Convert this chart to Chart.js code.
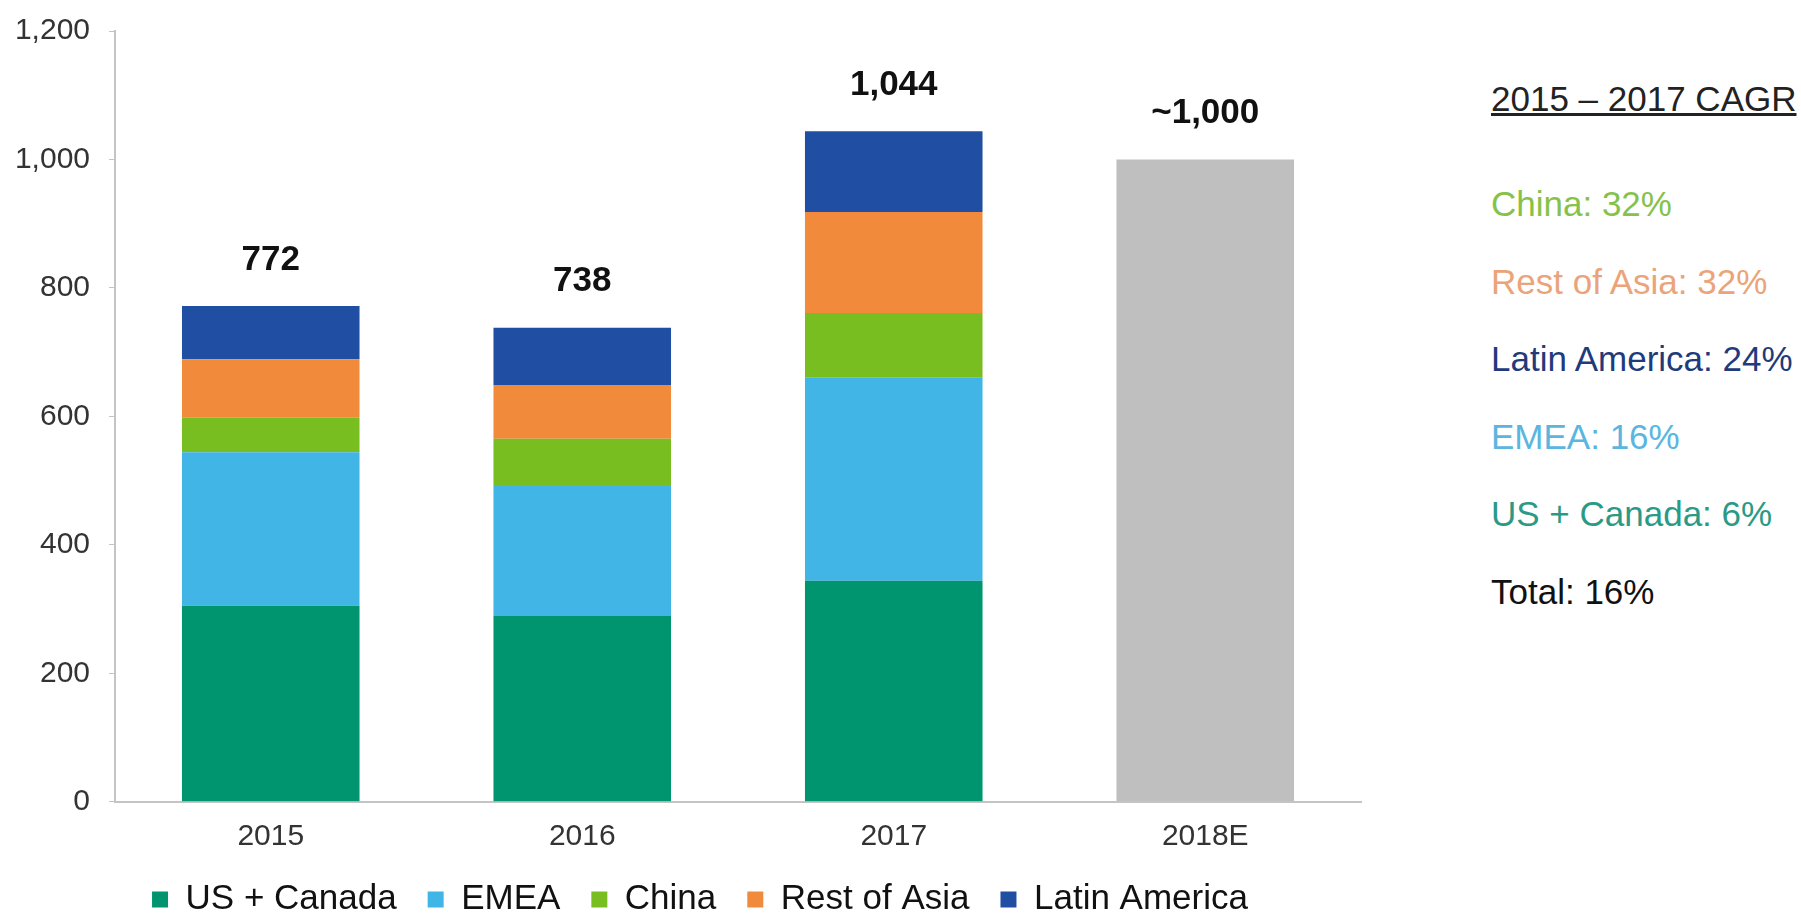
<!DOCTYPE html>
<html>
<head>
<meta charset="utf-8">
<script src="https://cdn.jsdelivr.net/npm/chart.js@4"></script>
<style>
    html, body { margin: 0; padding: 0; background: #fff; overflow: hidden; }
    #wrap { position: absolute; left: 0; top: 0; width: 1400px; height: 927px; }
    #cagr { position: absolute; left: 1491px; top: 0; font-family: "Liberation Sans", Arial, sans-serif; font-size: 35px; }
    #cagr div { position: absolute; left: 0; white-space: nowrap; transform: translateY(-50%); }
</style>
</head>
<body>
<div id="wrap"><canvas id="chart"></canvas></div>
<div id="cagr"></div>

<script>
// Podaci sa grafika
const years = ['2015', '2016', '2017', '2018E'];
const usCanada = [305, 290, 344, null];
const emea = [239, 203, 317, null];
const china = [54, 72, 100, null];
const restOfAsia = [91, 84, 157, null];
const latinAmerica = [83, 89, 126, null];
const estimate2018 = [null, null, null, 1000];
const totalLabels = ['772', '738', '1,044', '~1,000'];
const yTicks = [0, 200, 400, 600, 800, 1000, 1200];

const cagrTitle = '2015 \u2013 2017 CAGR';
const cagrItems = ['China: 32%', 'Rest of Asia: 32%', 'Latin America: 24%', 'EMEA: 16%', 'US + Canada: 6%', 'Total: 16%'];
const cagrColors = ['#86c24a', '#eba47a', '#1f3b7c', '#5ab6df', '#2a9a86', '#111111'];

// CAGR tekst desno
const cagr = document.getElementById('cagr');
const head = document.createElement('div');
head.textContent = cagrTitle;
head.style.top = '99px';
head.style.color = '#222';
head.style.textDecoration = 'underline';
cagr.appendChild(head);
cagrItems.forEach((txt, i) => {
    const d = document.createElement('div');
    d.textContent = txt;
    d.style.top = (204 + i * 77.5) + 'px';
    d.style.color = cagrColors[i];
    cagr.appendChild(d);
});

// Ukupne vrednosti iznad stubova
const totalsPlugin = {
    id: 'totals',
    afterDatasetsDraw(chart) {
        const ctx = chart.ctx;
        const x = chart.scales.x;
        const y = chart.scales.y;
        ctx.save();
        ctx.font = 'bold 35px "Liberation Sans", Arial, sans-serif';
        ctx.fillStyle = '#111';
        ctx.textAlign = 'center';
        ctx.textBaseline = 'middle';
        years.forEach((yr, i) => {
            let sum = 0;
            chart.data.datasets.forEach(ds => { sum += ds.data[i] || 0; });
            ctx.fillText(totalLabels[i], x.getPixelForValue(i), y.getPixelForValue(sum) - 46);
        });
        ctx.restore();
    }
};

const font = '"Liberation Sans", Arial, sans-serif';
const ctx = document.getElementById('chart').getContext('2d');
new Chart(ctx, {
    type: 'bar',
    data: {
        labels: years,
        datasets: [
            { label: 'US + Canada', data: usCanada, backgroundColor: '#00956f' },
            { label: 'EMEA', data: emea, backgroundColor: '#41b5e5' },
            { label: 'China', data: china, backgroundColor: '#78be21' },
            { label: 'Rest of Asia', data: restOfAsia, backgroundColor: '#f28a3c' },
            { label: 'Latin America', data: latinAmerica, backgroundColor: '#1f4ea3' },
            { label: '2018E', data: estimate2018, backgroundColor: '#bfbfbf' }
        ]
    },
    options: {
        responsive: true,
        maintainAspectRatio: false,
        animation: false,
        layout: { padding: { top: 0, right: 0, left: 0, bottom: 0 } },
        datasets: { bar: { barPercentage: 0.57, categoryPercentage: 1.0, borderWidth: 0 } },
        scales: {
            x: {
                stacked: true,
                grid: { display: false, drawTicks: false },
                border: { display: true, color: '#c4c4c4', width: 2 },
                ticks: { color: '#333', padding: 24, font: { family: font, size: 30, lineHeight: 0.75 } },
                afterFit(scale) { scale.height = 49.3; }
            },
            y: {
                stacked: true,
                min: 0,
                max: 1200,
                afterBuildTicks(scale) { scale.ticks = yTicks.map(v => ({ value: v })); },
                grid: { drawOnChartArea: false, tickLength: 6, color: '#c4c4c4' },
                border: { display: true, color: '#c4c4c4', width: 2 },
                ticks: {
                    color: '#333',
                    padding: 19,
                    font: { family: font, size: 30, lineHeight: 0.8 },
                    callback: v => v.toLocaleString('en-US')
                },
                afterFit(scale) { scale.width = 115; }
            },
            // prazan prostor desno od x ose (legenda ostaje centrirana)
            yRight: {
                position: 'right',
                grid: { display: false },
                border: { display: false },
                ticks: { display: false },
                afterFit(scale) { scale.width = 39; }
            }
        },
        plugins: {
            legend: {
                position: 'bottom',
                labels: {
                    color: '#111',
                    boxWidth: 16,
                    boxHeight: 16,
                    padding: 31,
                    font: { family: font, size: 35 },
                    filter: item => item.text !== '2018E'
                }
            },
            tooltip: { enabled: false }
        }
    },
    plugins: [totalsPlugin]
});
</script>
</body>
</html>
